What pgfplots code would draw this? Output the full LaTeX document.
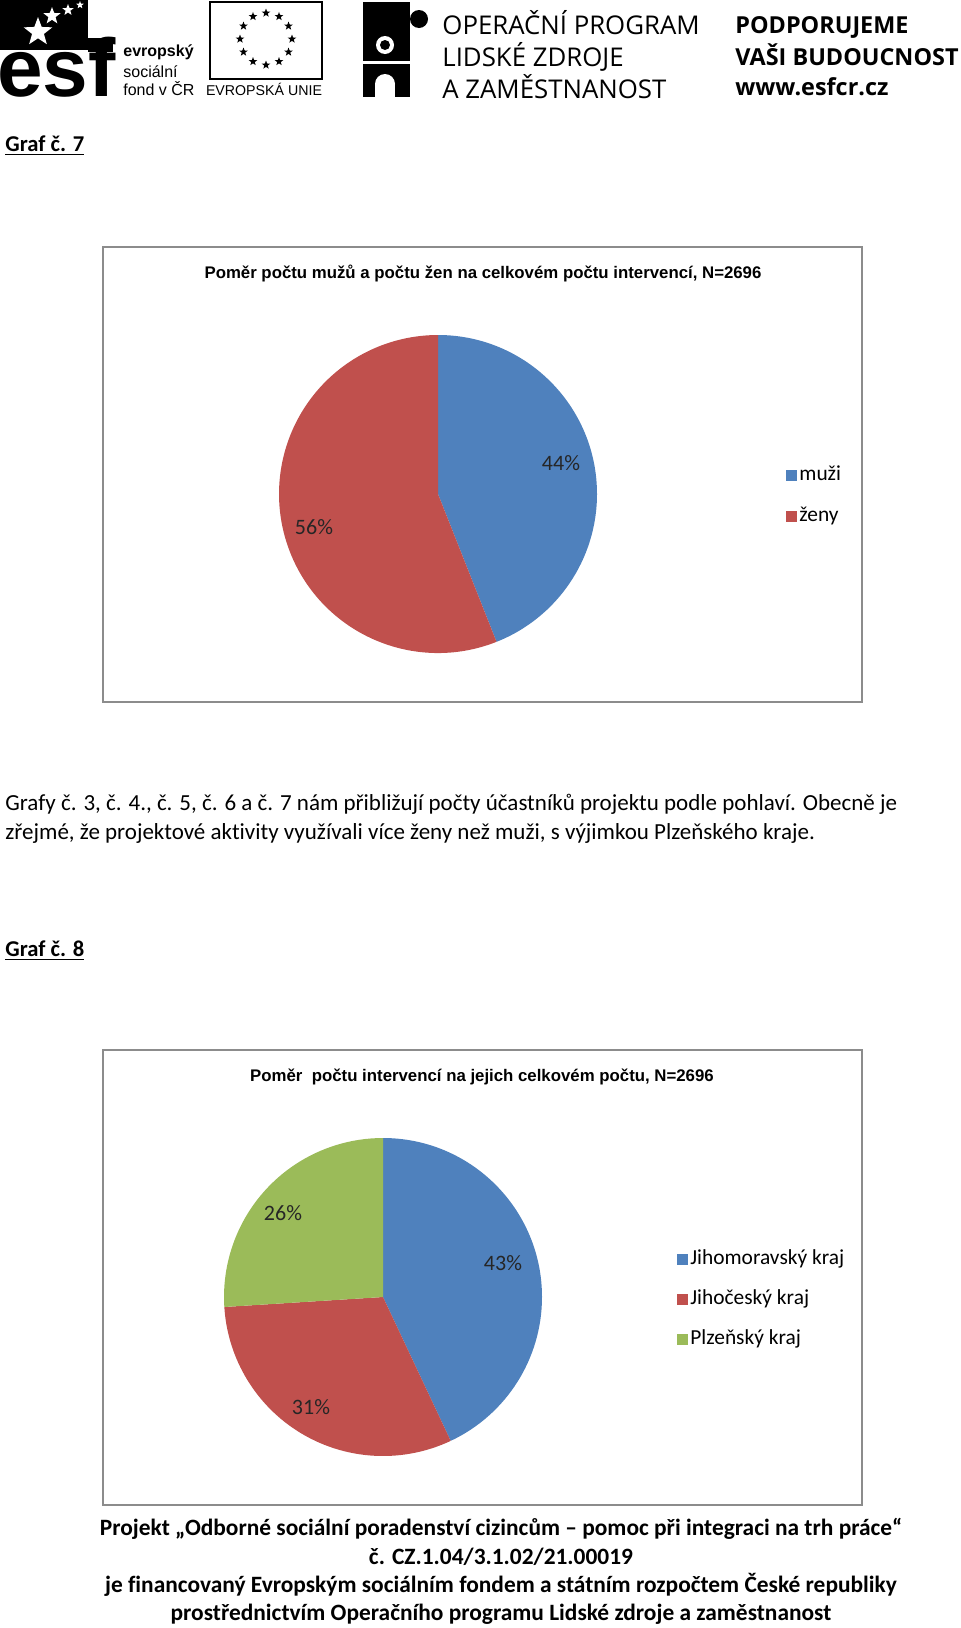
\documentclass[border=0pt]{standalone}
\usepackage{fontspec}
\setmainfont{Carlito}[Ligatures=NoCommon]
\newfontfamily\arial{Liberation Sans}
\newfontfamily\osans{Open Sans}
\usepackage{pgfplots}
\pgfplotsset{compat=1.18}
\usepackage{pgfplotstable}
\usetikzlibrary{shapes.geometric}
\definecolor{cblue}{HTML}{4F81BD}
\definecolor{cred}{HTML}{C0504D}
\definecolor{cgreen}{HTML}{9BBB59}

\pgfplotstableread{
label share
muzi 44
zeny 56
}\pieA
\pgfplotstableread{
label share
JM 43
JC 31
PL 26
}\pieB

% pie slice inside an axis: cx cy r share colour ; starts at \curang, goes clockwise
\newcommand\slice[5]{%
  \pgfmathsetmacro\pieSA{\curang}%
  \pgfmathsetmacro\pieEA{\curang-3.6*#4}%
  \edef\tmp{\noexpand\fill[#5] (axis cs:#1,#2) -- ++(\pieSA:#3*0.5pt) arc[start angle=\pieSA, end angle=\pieEA, radius=#3*0.5pt] -- cycle;}%
  \tmp
  \global\let\curang\pieEA}

\tikzset{st/.style={star, star points=5, star point ratio=2.4, inner sep=0pt, minimum size=#1, draw=none}}

\pgfplotsset{
  piebox/.style={
    anchor=north west, scale only axis,
    width=379.5pt, height=227.5pt,
    xmin=103, xmax=862,
    axis line style={draw=black!45, line width=0.7pt},
    xtick=\empty, ytick=\empty, clip=false,
    legend cell align=left,
    legend style={draw=none, fill=none, inner sep=0pt, anchor=north west,
      font=\fontsize{10.7}{12}\selectfont,
      nodes={inner sep=1.5pt, text height=7pt, text depth=2pt}},
  },
  sq/.style={legend image code/.code={\fill[#1] (-0.3pt,-2.3pt) rectangle (4.3pt,2.3pt);}},
}

\begin{document}
\begin{tikzpicture}[x=0.5pt,y=-0.5pt]
\path[use as bounding box] (0,0) rectangle (960,1628);

% ---------- header ----------
% ESF logo
\fill (0,0) rectangle (88,50);
\fill (88,38) rectangle (113,52);
\node[anchor=base west, inner sep=0, font=\arial\bfseries\fontsize{41}{41}\selectfont] at (-3,96) {esf};
\node[st=15pt, fill=white] at (38,32) {};
\node[st=9pt, fill=white] at (52,16) {};
\node[st=6pt, fill=white] at (68,10) {};
\node[st=4pt, fill=white] at (80,5) {};
\node[anchor=base west, inner sep=0, font=\arial\bfseries\fontsize{8}{8}\selectfont] at (123,56) {evropský};
\node[anchor=base west, inner sep=0, font=\arial\fontsize{8}{8}\selectfont] at (123,77) {sociální};
\node[anchor=base west, inner sep=0, font=\arial\fontsize{8}{8}\selectfont] at (123,95) {fond v ČR};
% EU flag
\draw[line width=0.8pt] (210,2) rectangle (322,79);
\foreach \a in {0,30,...,330}
  \node[st=4.5pt, fill=black] at ({266+26*cos(\a)},{39+26*sin(\a)}) {};
\node[anchor=base, inner sep=0, font=\arial\fontsize{7.1}{8}\selectfont] at (264,95) {EVROPSKÁ UNIE};
% puzzle logo
\fill (363,2) rectangle (410,97);
\fill (419,19) circle (9);
\fill[white] (385,45) circle (9);
\fill (385,45) circle (5);
\fill[white] (363,61) rectangle (410,64);
\fill[white] (385,84) circle (10);
\fill[white] (375,84) rectangle (395,97);
% programme texts
\node[anchor=base west, inner sep=0, font=\osans\fontsize{12.9}{13}\selectfont] at (442,34) {OPERAČNÍ PROGRAM};
\node[anchor=base west, inner sep=0, font=\osans\fontsize{12.9}{13}\selectfont] at (442,66) {LIDSKÉ ZDROJE};
\node[anchor=base west, inner sep=0, font=\osans\fontsize{12.9}{13}\selectfont] at (442,98) {A ZAMĚSTNANOST};
\node[anchor=base west, inner sep=0, font=\osans\bfseries\fontsize{11.7}{12}\selectfont] at (735,33) {PODPORUJEME};
\node[anchor=base west, inner sep=0, font=\osans\bfseries\fontsize{11.7}{12}\selectfont] at (735,65) {VAŠI BUDOUCNOST};
\node[anchor=base west, inner sep=0, font=\osans\bfseries\fontsize{11.7}{12}\selectfont] at (735,95) {www.esfcr.cz};

% ---------- body texts ----------
\node[anchor=base west, inner sep=0, font=\bfseries\fontsize{11.3}{12}\selectfont] at (5,151) {\underline{Graf č. 7}};
\node[anchor=base west, inner sep=0, font=\fontsize{11.5}{12}\selectfont] at (5,810) {Grafy č. 3, č. 4., č. 5, č. 6 a č. 7 nám přibližují počty účastníků projektu podle pohlaví. Obecně je};
\node[anchor=base west, inner sep=0, font=\fontsize{11.5}{12}\selectfont] at (5,839) {zřejmé, že projektové aktivity využívali více ženy než muži, s výjimkou Plzeňského kraje.};
\node[anchor=base west, inner sep=0, font=\bfseries\fontsize{11.3}{12}\selectfont] at (5,956) {\underline{Graf č. 8}};

\node[anchor=base, inner sep=0, font=\bfseries\fontsize{11.7}{12}\selectfont] at (501,1535) {Projekt „Odborné sociální poradenství cizincům – pomoc při integraci na trh práce“};
\node[anchor=base, inner sep=0, font=\bfseries\fontsize{11.7}{12}\selectfont] at (501,1564) {č. CZ.1.04/3.1.02/21.00019};
\node[anchor=base, inner sep=0, font=\bfseries\fontsize{11.7}{12}\selectfont] at (501,1592) {je financovaný Evropským sociálním fondem a státním rozpočtem České republiky};
\node[anchor=base, inner sep=0, font=\bfseries\fontsize{11.7}{12}\selectfont] at (501,1620) {prostřednictvím Operačního programu Lidské zdroje a zaměstnanost};

% ---------- chart 7 ----------
\pgfplotstablegetelem{0}{share}\of\pieA \edef\vA{\pgfplotsretval}
\pgfplotstablegetelem{1}{share}\of\pieA \edef\vB{\pgfplotsretval}
\begin{axis}[piebox, at={(51.5pt,-123.5pt)}, ymin=-702, ymax=-247,
  legend style={at={(axis cs:786,-463)}, row sep=8.5pt}]
  \gdef\curang{90}
  \slice{438}{-494}{159}{\vA}{cblue}
  \slice{438}{-494}{159}{\vB}{cred}
  \node[font=\arial\bfseries\fontsize{8.4}{9}\selectfont, anchor=base] at (axis cs:483,-278) {Poměr počtu mužů a počtu žen na celkovém počtu intervencí, N=2696};
  \node[font=\fontsize{11}{12}\selectfont, text=black!85] at (axis cs:561,-463) {44\%};
  \node[font=\fontsize{11}{12}\selectfont, text=black!85] at (axis cs:314,-527) {56\%};
  \addlegendimage{sq=cblue}\addlegendentry{muži}
  \addlegendimage{sq=cred}\addlegendentry{ženy}
\end{axis}

% ---------- chart 8 ----------
\pgfplotstablegetelem{0}{share}\of\pieB \edef\wA{\pgfplotsretval}
\pgfplotstablegetelem{1}{share}\of\pieB \edef\wB{\pgfplotsretval}
\pgfplotstablegetelem{2}{share}\of\pieB \edef\wC{\pgfplotsretval}
\begin{axis}[piebox, at={(51.5pt,-525pt)}, ymin=-1505, ymax=-1050,
  legend style={at={(axis cs:677,-1247)}, row sep=8pt}]
  \gdef\curang{90}
  \slice{383}{-1297}{159}{\wA}{cblue}
  \slice{383}{-1297}{159}{\wB}{cred}
  \slice{383}{-1297}{159}{\wC}{cgreen}
  \node[font=\arial\bfseries\fontsize{8.4}{9}\selectfont, anchor=base] at (axis cs:482,-1081) {Poměr\ \ počtu intervencí na jejich celkovém počtu, N=2696};
  \node[font=\fontsize{11}{12}\selectfont, text=black!85] at (axis cs:503,-1263) {43\%};
  \node[font=\fontsize{11}{12}\selectfont, text=black!85] at (axis cs:283,-1213) {26\%};
  \node[font=\fontsize{11}{12}\selectfont, text=black!85] at (axis cs:311,-1407) {31\%};
  \addlegendimage{sq=cblue}\addlegendentry{Jihomoravský kraj}
  \addlegendimage{sq=cred}\addlegendentry{Jihočeský kraj}
  \addlegendimage{sq=cgreen}\addlegendentry{Plzeňský kraj}
\end{axis}
\end{tikzpicture}
\end{document}
